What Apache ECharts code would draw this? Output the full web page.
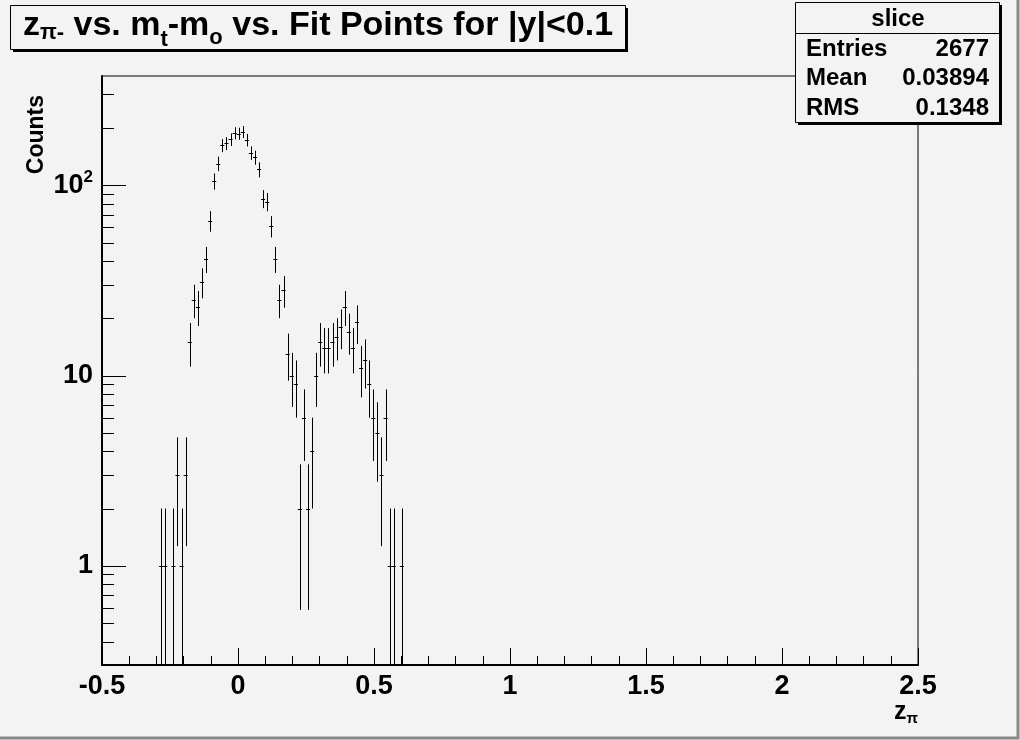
<!DOCTYPE html>
<html>
<head>
<meta charset="utf-8">
<script src="https://cdn.jsdelivr.net/npm/echarts@6.0.0/dist/echarts.min.js"></script>
<style>
  html, body { margin: 0; padding: 0; background: #f3f3f3; }
  #chart { width: 1020px; height: 740px; }
</style>
</head>
<body>
<div id="chart"></div>
<script>
// histogram "slice": 200 bins of width 0.015 from -0.5 to 2.5, only the filled bins
const binWidth = 0.015;
const binCenters = [
  -0.2825, -0.2675, -0.2375, -0.2225, -0.2075, -0.1925, -0.1775, -0.1625, -0.1475, -0.1325,
  -0.1175, -0.1025, -0.0875, -0.0725, -0.0575, -0.0425, -0.0275, -0.0125, 0.0025, 0.0175,
  0.0325, 0.0475, 0.0625, 0.0775, 0.0925, 0.1075, 0.1225, 0.1375, 0.1525, 0.1675,
  0.1825, 0.1975, 0.2125, 0.2275, 0.2425, 0.2575, 0.2725, 0.2875, 0.3025, 0.3175,
  0.3325, 0.3475, 0.3625, 0.3775, 0.3925, 0.4075, 0.4225, 0.4375, 0.4525, 0.4675,
  0.4825, 0.4975, 0.5125, 0.5275, 0.5425, 0.5575, 0.5725, 0.6025
];
const counts = [
  1, 1, 1, 3, 1, 3, 15, 25, 23, 31,
  41, 65, 105, 130, 162, 166, 174, 188, 187, 191,
  173, 148, 140, 121, 85, 82, 61, 41, 25, 28,
  13, 10, 9, 2, 6, 2, 4, 10, 15, 14,
  14, 15, 16, 18, 23, 17, 14, 19, 11, 12,
  9, 6, 5, 3, 6, 1, 1, 1
];

// axes
const xMin = -0.5, xMax = 2.5, xStep = 0.5;
const yMin = 0.301, yMax = 375;
const yTickValues = [0.4, 0.5, 0.6, 0.7, 0.8, 0.9, 1, 2, 3, 4, 5, 6, 7, 8, 9,
  10, 20, 30, 40, 50, 60, 70, 80, 90, 100, 200, 300];
const yMajorTicks = [1, 10, 100];

// stats box
const statsTitle = 'slice';
const statsRows = [['Entries', '2677'], ['Mean', '0.03894'], ['RMS', '0.1348']];

const FONT = '"Liberation Sans", Arial, Helvetica, sans-serif';
const BG = '#f3f3f3';

const chart = echarts.init(document.getElementById('chart'));

function crisp(v) {
  return Math.round(v) + 0.5;
}

// vertical error bar +/- sqrt(N) and horizontal bar over the bin width
function renderErrorBar(params, api) {
  const x = api.value(0);
  const n = api.value(1);
  const e = Math.sqrt(n);
  const lo = Math.max(n - e, yMin);
  const hi = Math.min(n + e, yMax);
  const top = api.coord([x, hi]);
  const bot = api.coord([x, lo]);
  const left = api.coord([x - binWidth / 2, n]);
  const right = api.coord([x + binWidth / 2, n]);
  const cx = crisp(top[0]);
  const cy = crisp(left[1]);
  return {
    type: 'group',
    children: [
      { type: 'line', shape: { x1: cx, y1: top[1], x2: cx, y2: bot[1] }, style: { stroke: '#000', lineWidth: 1 } },
      { type: 'line', shape: { x1: left[0], y1: cy, x2: right[0], y2: cy }, style: { stroke: '#000', lineWidth: 1 } }
    ]
  };
}

// ROOT style log ticks on the inside of the y axis
function renderYTick(params, api) {
  const v = api.value(1);
  const p = api.coord([xMin, v]);
  const len = yMajorTicks.indexOf(v) >= 0 ? 24 : 12;
  const y = crisp(p[1]);
  return {
    type: 'line',
    shape: { x1: p[0], y1: y, x2: p[0] + len, y2: y },
    style: { stroke: '#000', lineWidth: 1 }
  };
}

function yLabel(v) {
  const lg = Math.log10(v);
  if (Math.abs(lg - Math.round(lg)) > 1e-6) return '';
  const p = Math.round(lg);
  if (p === 0) return '1';
  if (p === 1) return '10';
  return '10{sup|' + p + '}';
}

const option = {
  backgroundColor: BG,
  animation: false,
  grid: {
    left: 102, right: 102, top: 76, bottom: 75,
    show: true, borderColor: '#000', borderWidth: 1, backgroundColor: BG
  },
  xAxis: {
    type: 'value', min: xMin, max: xMax, interval: xStep,
    axisLine: { onZero: false, lineStyle: { color: '#000', width: 2 } },
    axisTick: { inside: true, length: 17, lineStyle: { color: '#000', width: 1 } },
    minorTick: { show: true, splitNumber: 5, length: 9, lineStyle: { color: '#000', width: 1 } },
    splitLine: { show: false },
    axisLabel: {
      margin: 8, color: '#000', fontSize: 27, fontWeight: 'bold', fontFamily: FONT,
      showMinLabel: true, showMaxLabel: true
    }
  },
  yAxis: {
    type: 'log', logBase: 10, min: yMin, max: yMax,
    axisLine: { show: true, onZero: false, lineStyle: { color: '#000', width: 2 } },
    axisTick: { show: false },
    splitLine: { show: false },
    axisLabel: {
      margin: 9, color: '#000', fontSize: 27, fontWeight: 'bold', fontFamily: FONT,
      formatter: yLabel,
      rich: {
        sup: { fontSize: 17, fontWeight: 'bold', fontFamily: FONT, color: '#000', padding: [0, 0, 16, 0] }
      }
    }
  },
  series: [
    {
      type: 'custom', name: 'slice', silent: true, clip: true,
      renderItem: renderErrorBar,
      data: binCenters.map((x, i) => [x, counts[i]])
    },
    {
      type: 'custom', name: 'yticks', silent: true, clip: false,
      renderItem: renderYTick,
      data: yTickValues.map(v => [xMin, v])
    }
  ],
  graphic: [
    // canvas bevel
    { type: 'polyline', silent: true, shape: { points: [[1018, 0], [1018, 738], [0, 738]] },
      style: { stroke: '#8a8a8a', lineWidth: 3, fill: null } },
    // title pave
    { type: 'rect', silent: true, shape: { x: 13, y: 8, width: 615, height: 44 }, style: { fill: '#000' } },
    { type: 'rect', silent: true, shape: { x: 10.5, y: 5.5, width: 615, height: 44 },
      style: { fill: BG, stroke: '#000', lineWidth: 1 } },
    { type: 'text', silent: true,
      style: {
        x: 318, y: 26, align: 'center', verticalAlign: 'middle',
        text: '{m|z}{s1|π-}{m| vs. m}{s2|t}{m|-m}{s3|o}{m| vs. Fit Points for |y|<0.1}',
        rich: {
          m: { fontSize: 34, fontWeight: 'bold', fontFamily: FONT, fill: '#000', lineHeight: 40 },
          s1: { fontSize: 22, fontWeight: 'bold', fontFamily: FONT, fill: '#000', lineHeight: 40, padding: [14, 0, 0, 0] },
          s2: { fontSize: 22, fontWeight: 'bold', fontFamily: FONT, fill: '#000', lineHeight: 40, padding: [28, 0, 0, 0] },
          s3: { fontSize: 22, fontWeight: 'bold', fontFamily: FONT, fill: '#000', lineHeight: 40, padding: [24, 0, 0, 0] }
        }
      }
    },
    // stats pave
    { type: 'rect', silent: true, shape: { x: 798, y: 5, width: 204, height: 120 }, style: { fill: '#000' } },
    { type: 'rect', silent: true, shape: { x: 795.5, y: 2.5, width: 204, height: 120 },
      style: { fill: BG, stroke: '#000', lineWidth: 1 } },
    { type: 'line', silent: true, shape: { x1: 796, y1: 33.5, x2: 1000, y2: 33.5 }, style: { stroke: '#000', lineWidth: 1 } },
    { type: 'text', silent: true,
      style: { x: 898, y: 19, align: 'center', verticalAlign: 'middle', text: statsTitle,
        font: 'bold 24px ' + FONT, fill: '#000' } },
    ...statsRows.map((row, i) => ({
      type: 'text', silent: true,
      style: { x: 806, y: 49 + i * 29.5, align: 'left', verticalAlign: 'middle', text: row[0],
        font: 'bold 24px ' + FONT, fill: '#000' }
    })),
    ...statsRows.map((row, i) => ({
      type: 'text', silent: true,
      style: { x: 989, y: 49 + i * 29.5, align: 'right', verticalAlign: 'middle', text: row[1],
        font: 'bold 24px ' + FONT, fill: '#000' }
    })),
    // axis titles
    { type: 'text', silent: true, x: 37, y: 95, rotation: Math.PI / 2,
      style: { x: 0, y: 0, align: 'right', verticalAlign: 'middle', text: 'Counts',
        font: 'bold 23px ' + FONT, fill: '#000' } },
    { type: 'text', silent: true,
      style: {
        x: 918, y: 712, align: 'right', verticalAlign: 'middle',
        text: '{m|z}{s|π}',
        rich: {
          m: { fontSize: 25, fontWeight: 'bold', fontFamily: FONT, fill: '#000', lineHeight: 30 },
          s: { fontSize: 15, fontWeight: 'bold', fontFamily: FONT, fill: '#000', lineHeight: 30, padding: [14, 0, 0, 0] }
        }
      }
    }
  ]
};

chart.setOption(option);
</script>
</body>
</html>
